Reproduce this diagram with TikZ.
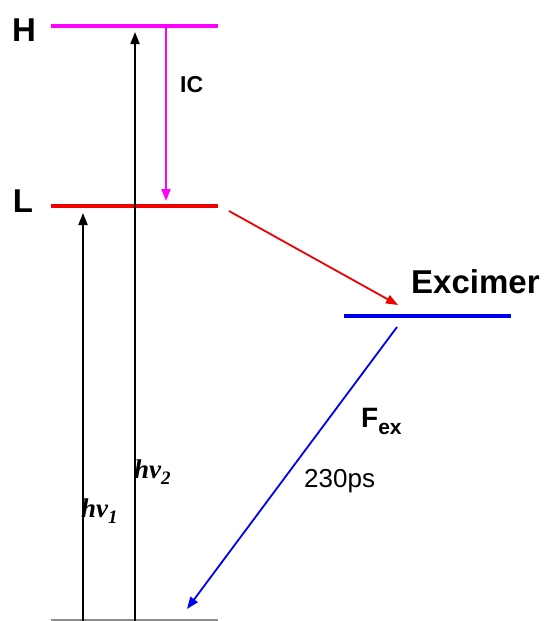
\documentclass[tikz,border=0pt]{standalone}
\usepackage{fontspec}
\setmainfont{Liberation Sans}
\newfontfamily\timesf{Liberation Serif}
\usetikzlibrary{arrows.meta}
\definecolor{mag}{RGB}{255,0,255}
\definecolor{lvred}{RGB}{240,0,0}
\definecolor{lvblue}{RGB}{0,0,240}
\begin{document}
\begin{tikzpicture}[x=1pt,y=-1pt,
  level/.style={line width=4.6pt},
  arr/.style={line width=1.8pt,-{Triangle[length=12pt,width=9pt]}},
  big/.style={font=\fontsize{33}{33}\selectfont\bfseries, inner sep=0pt},
  txt/.style={inner sep=0pt, anchor=base west},
]
\useasboundingbox (0,0) rectangle (551,621);
% levels
\coordinate (Ha) at (51,26);  \coordinate (Hb) at (218,26);
\coordinate (La) at (51,206); \coordinate (Lb) at (218,206);
\coordinate (Ea) at (344,316); \coordinate (Eb) at (511,316);
\coordinate (Ga) at (51,620); \coordinate (Gb) at (218,620);
\draw[level, mag] (Ha) -- (Hb);
\draw[level, lvred] (La) -- (Lb);
\draw[level, lvblue] (Ea) -- (Eb);
\draw[line width=1.2pt, black!45] (Ga) -- (Gb);
% arrow end points
\coordinate (a1s) at (83,621); \coordinate (a1e) at (83,213);
\coordinate (a2s) at (135,621); \coordinate (a2e) at (135,32);
\coordinate (ics) at (166,27); \coordinate (ice) at (166,201);
\coordinate (rs) at (229,211); \coordinate (re) at (398,305);
\coordinate (bs) at (397,327); \coordinate (be) at (187,609);
\draw[arr, black] (a1s) -- (a1e);
\draw[arr, black] (a2s) -- (a2e);
\draw[arr, mag] (ics) -- (ice);
\draw[arr, lvred] (rs) -- (re);
\draw[arr, lvblue] (bs) -- (be);
% labels
\node[big] (Hlab) at (24,30) {H};
\node[big] (Llab) at (23,201) {L};
\node[txt, font=\fontsize{33}{33}\selectfont\bfseries] (exc) at (411,293) {Excimer};
\node[txt, font=\fontsize{23}{23}\selectfont\bfseries] (ic) at (180,92) {IC};
\node[txt, font=\fontsize{28}{28}\selectfont\bfseries] (fex) at (361,427) {F\raisebox{-7pt}{\fontsize{21}{21}\selectfont ex}};
\node[txt, font=\fontsize{26}{26}\selectfont] (ps) at (304,487) {230ps};
\node[txt, font=\fontsize{27}{27}\selectfont\timesf\bfseries\itshape] (hv2) at (134,478) {hv\raisebox{-6pt}{\fontsize{19}{19}\selectfont 2}};
\node[txt, font=\fontsize{27}{27}\selectfont\timesf\bfseries\itshape] (hv1) at (81,517) {hv\raisebox{-6pt}{\fontsize{19}{19}\selectfont 1}};
\end{tikzpicture}
\end{document}
